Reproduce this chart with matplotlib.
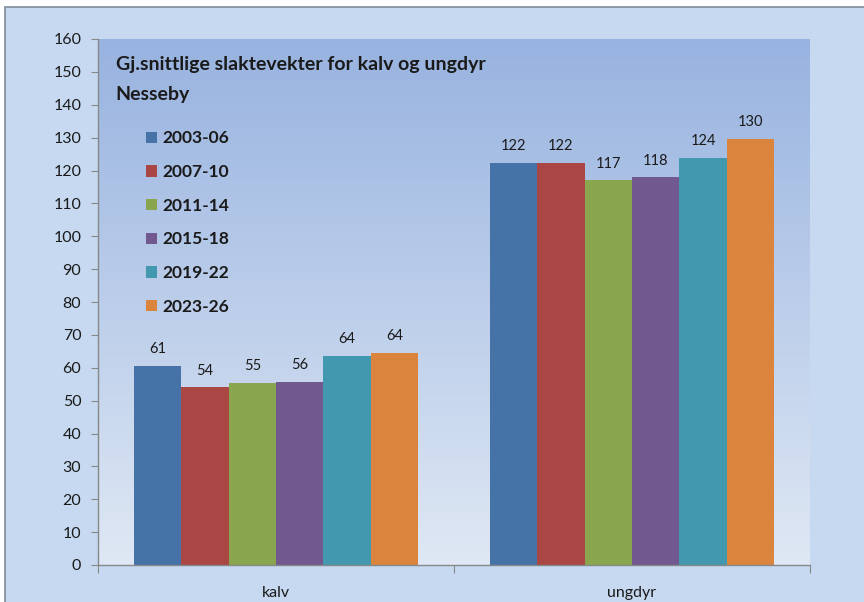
import numpy as np
import matplotlib
matplotlib.use("Agg")
import matplotlib.pyplot as plt
from matplotlib.patches import Rectangle

plt.rcParams['font.family'] = ['Lato', 'DejaVu Sans']

categories = ['kalv', 'ungdyr']
periods = ['2003-06', '2007-10', '2011-14', '2015-18', '2019-22', '2023-26']
kalv = [60.6, 54.0, 55.4, 55.8, 63.6, 64.4]
ungdyr = [122.3, 122.3, 117.0, 117.9, 123.7, 129.6]
colors = ['#4572A7', '#AA4643', '#89A54E', '#71588F', '#4198AF', '#DB843D']

title = 'Gj.snittlige slaktevekter for kalv og ungdyr'
subtitle = 'Nesseby'

fig = plt.figure(figsize=(8.64, 6.02), dpi=100)
fig.patch.set_facecolor('white')

# outer chart area with thin border (cropped at right/bottom)
W, H = 864, 602
fig.patches.append(Rectangle((5 / W, -0.05), 1.1, 1 - 7 / H + 0.05,
                             transform=fig.transFigure, facecolor='#c6d9f0',
                             edgecolor='#7f8c99', lw=1.2, zorder=-10))

ax = fig.add_axes([98 / W, 1 - 565 / H, (810 - 98) / W, (565 - 39) / H])
ax.set_facecolor('none')

# plot area gradient
grad = np.linspace(0, 1, 256).reshape(-1, 1)
top = np.array([0x98, 0xb3, 0xe0]) / 255
bot = np.array([0xdf, 0xe8, 0xf4]) / 255
img = top[None, None, :] * (1 - grad[:, :, None]) + bot[None, None, :] * grad[:, :, None]
ax.imshow(img, extent=[-0.5, 1.5, 0, 160], aspect='auto', zorder=0,
          transform=ax.transData)

data = np.array([kalv, ungdyr])
x = np.arange(len(categories))
n = len(periods)
bw = 0.8 / n
for i, p in enumerate(periods):
    xs = x - 0.4 + bw * (i + 0.5)
    vals = data[:, i]
    ax.bar(xs, vals, width=bw, color=colors[i], label=p, zorder=2)
    for xx, v in zip(xs, vals):
        ax.text(xx, v + 3.0, '%.0f' % v, ha='center', va='bottom',
                fontsize=10.5, color='#1a1a1a', zorder=3)

ax.set_xlim(-0.5, 1.5)
ax.set_ylim(0, 160)
ax.set_yticks(np.arange(0, 161, 10))
ax.set_xticks([-0.5, 0.5, 1.5])
ax.set_xticklabels([])
ax.set_xticks(x, minor=True)
ax.set_xticklabels(categories, minor=True)
ax.tick_params(axis='x', which='major', length=6, color='#86888a', direction='out')
ax.tick_params(axis='x', which='minor', length=0, labelsize=11.5, pad=15, labelcolor='#1a1a1a')
ax.tick_params(axis='y', length=5, color='#86888a', labelsize=11.5, pad=7, labelcolor='#1a1a1a')

for s in ['top', 'right']:
    ax.spines[s].set_visible(False)
for s in ['left', 'bottom']:
    ax.spines[s].set_color('#86888a')
    ax.spines[s].set_linewidth(1)

ax.text(0.025, 0.951, title, transform=ax.transAxes, fontsize=14,
        fontweight='bold', va='center', ha='left', color='#1a1a1a', zorder=4)
ax.text(0.025, 0.894, subtitle, transform=ax.transAxes, fontsize=14,
        fontweight='bold', va='center', ha='left', color='#1a1a1a', zorder=4)

leg = ax.legend(loc='upper left', bbox_to_anchor=(0.046, 0.856), frameon=False,
                prop={'weight': 'bold', 'size': 12.5}, handlelength=0.62,
                handleheight=0.62, handletextpad=0.3, labelspacing=1.02)
for t in leg.get_texts():
    t.set_color('#1a1a1a')

fig.savefig('out.png', dpi=100)
